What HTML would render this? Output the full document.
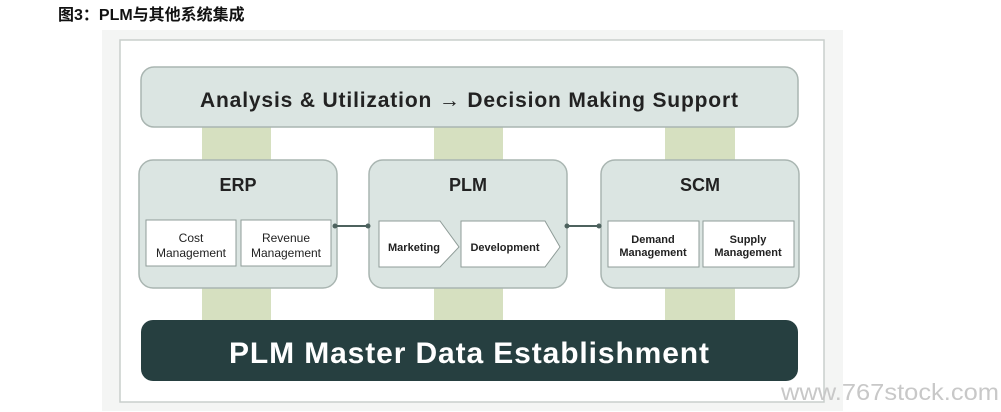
<!DOCTYPE html>
<html><head><meta charset="utf-8"><style>
html,body{margin:0;padding:0;background:#fff;width:1001px;height:412px;overflow:hidden}
</style></head><body>
<svg width="1001" height="412" viewBox="0 0 1001 412" xmlns="http://www.w3.org/2000/svg" font-family="Liberation Sans, DejaVu Sans, sans-serif">
<text x="58" y="20" font-size="16" font-weight="bold" fill="#111" font-family="Liberation Sans, Noto Sans CJK SC, sans-serif">图3：PLM与其他系统集成</text>
<rect x="102" y="30" width="741" height="381" fill="#f4f5f4"/>
<rect x="120" y="40" width="704" height="362" fill="#fff" stroke="#c9cfcc" stroke-width="1.5"/>
<g fill="#d6e0c0">
<rect x="202" y="120" width="69" height="210"/>
<rect x="434" y="120" width="69" height="210"/>
<rect x="665" y="120" width="70" height="210"/>
</g>
<rect x="141" y="67" width="657" height="60" rx="13" fill="#dbe5e2" stroke="#a9b5b1" stroke-width="1.5"/>
<text x="469" y="107" font-size="21" font-weight="bold" fill="#222" text-anchor="middle" textLength="538" lengthAdjust="spacing">Analysis &amp; Utilization → Decision Making Support</text>
<g fill="#dbe5e2" stroke="#a9b5b1" stroke-width="1.5">
<rect x="139" y="160" width="198" height="128" rx="14"/>
<rect x="369" y="160" width="198" height="128" rx="14"/>
<rect x="601" y="160" width="198" height="128" rx="14"/>
</g>
<g font-size="18" font-weight="bold" fill="#222" text-anchor="middle">
<text x="238" y="191">ERP</text>
<text x="468" y="191">PLM</text>
<text x="700" y="191">SCM</text>
</g>
<g fill="#fff" stroke="#8f9c98" stroke-width="1">
<rect x="146" y="220" width="90" height="46"/>
<rect x="241" y="220" width="90" height="46"/>
<rect x="608" y="221" width="91" height="46"/>
<rect x="703" y="221" width="91" height="46"/>
<polygon points="379,221 440,221 459,247 440,267 379,267"/>
<polygon points="461,221 545,221 560,247 545,267 461,267"/>
</g>
<g font-size="12" fill="#222" text-anchor="middle">
<text x="191" y="242">Cost</text><text x="191" y="257">Management</text>
<text x="286" y="242">Revenue</text><text x="286" y="257">Management</text>
</g>
<g font-size="11" font-weight="bold" fill="#222" text-anchor="middle">
<text x="414" y="251">Marketing</text>
<text x="505" y="251">Development</text>
<text x="653" y="243">Demand</text><text x="653" y="256">Management</text>
<text x="748" y="243">Supply</text><text x="748" y="256">Management</text>
</g>
<g stroke="#4d625e" stroke-width="2"><line x1="335" y1="226" x2="368" y2="226"/><line x1="567" y1="226" x2="599" y2="226"/></g>
<g fill="#4d625e"><circle cx="335" cy="226" r="2.5"/><circle cx="368" cy="226" r="2.5"/><circle cx="567" cy="226" r="2.5"/><circle cx="599" cy="226" r="2.5"/></g>
<rect x="141" y="320" width="657" height="61" rx="12" fill="#263f40"/>
<text x="469" y="363" font-size="30" font-weight="bold" fill="#fff" text-anchor="middle" textLength="480" lengthAdjust="spacing">PLM Master Data Establishment</text>
<text x="781" y="400" font-size="23" fill="#c8c8c8" textLength="218" lengthAdjust="spacingAndGlyphs">www.767stock.com</text>
</svg>
</body></html>
